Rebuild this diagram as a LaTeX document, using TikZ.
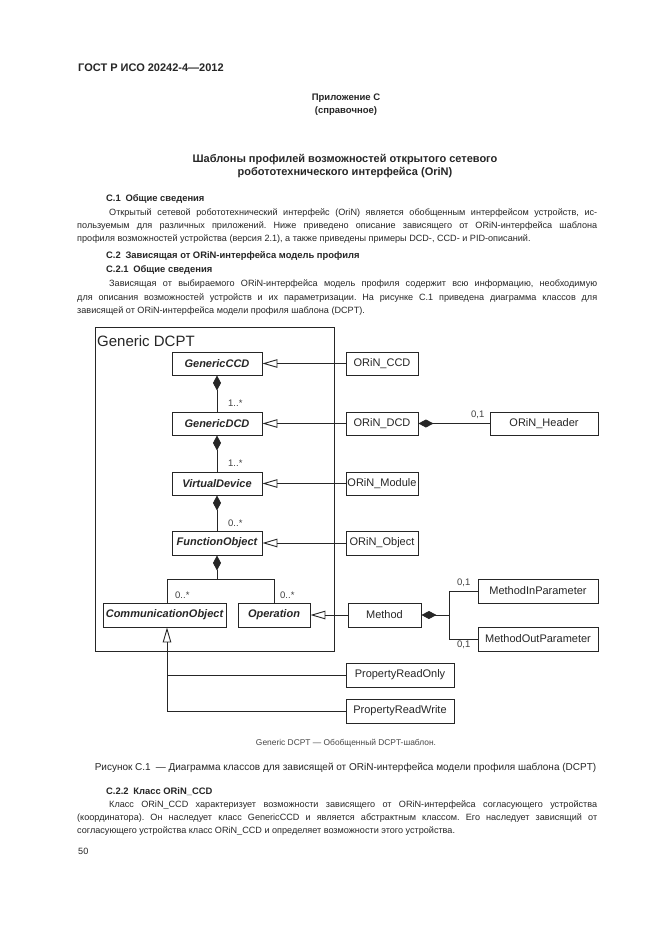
\documentclass[tikz,border=0pt]{standalone}
\usepackage{fontspec}
\setmainfont{Liberation Sans}
\usetikzlibrary{arrows.meta}
\frenchspacing
\begin{document}
\begin{tikzpicture}[x=1pt,y=-1pt,
  body/.style={anchor=base west,inner sep=0pt,font=\fontsize{9.1}{11}\selectfont,text=black!85},
  head/.style={body,font=\bfseries\fontsize{9.4}{11}\selectfont},
  ctr/.style={anchor=base,inner sep=0pt,text=black!85},
  cls/.style={draw=black!85,line width=0.9pt,inner sep=0pt,minimum height=23pt,font=\fontsize{11}{13}\selectfont,text=black!85},
  abscls/.style={cls,font=\bfseries\itshape\fontsize{11}{13}\selectfont},
  mult/.style={anchor=west,inner sep=0pt,font=\fontsize{9.5}{11}\selectfont,text=black!75},
  conn/.style={line width=0.9pt,draw=black!85},
  comp/.style={conn,{Diamond[length=15pt,width=8pt]}-},
  gen/.style={conn,{Triangle[open,length=15pt,width=8.5pt]}-}
]
\fill[white] (0,0) rectangle (661,935);
\useasboundingbox (0,0) rectangle (661,935);

% header
\node[body,font=\bfseries\fontsize{11}{13}\selectfont] (hdr) at (78,71) {ГОСТ Р ИСО 20242-4—2012};
\node[ctr,font=\bfseries\fontsize{9.5}{11}\selectfont] (app1) at (346,100.5) {Приложение С};
\node[ctr,font=\bfseries\fontsize{9.5}{11}\selectfont] (app2) at (346,113.5) {(справочное)};
\node[ctr,font=\bfseries\fontsize{11}{13}\selectfont] (ttl1) at (345,162.5) {Шаблоны профилей возможностей открытого сетевого};
\node[ctr,font=\bfseries\fontsize{11}{13}\selectfont] (ttl2) at (345,175.5) {робототехнического интерфейса (OriN)};

% C.1
\node[head] (h1) at (106,201.5) {C.1\enspace Общие сведения};
\node[body] (p1) at (109,215.5) {\makebox[488pt][s]{Открытый сетевой робототехнический интерфейс (OriN) является обобщенным интерфейсом устройств, ис-}};
\node[body] (p2) at (77,228.5) {\makebox[520pt][s]{пользуемым для различных приложений. Ниже приведено описание зависящего от ORiN-интерфейса шаблона}};
\node[body] (p3) at (77,241.5) {профиля возможностей устройства (версия 2.1), а также приведены примеры DCD-, CCD- и PID-описаний.};

% C.2
\node[head] (h2) at (106,258.5) {C.2\enspace Зависящая от ORiN-интерфейса модель профиля};
\node[head] (h21) at (106,272.5) {C.2.1\enspace Общие сведения};
\node[body] (q1) at (109,286.5) {\makebox[488pt][s]{Зависящая от выбираемого ORiN-интерфейса модель профиля содержит всю информацию, необходимую}};
\node[body] (q2) at (77,300) {\makebox[520pt][s]{для описания возможностей устройств и их параметризации. На рисунке С.1 приведена диаграмма классов для}};
\node[body] (q3) at (77,313.5) {зависящей от ORiN-интерфейса модели профиля шаблона (DCPT).};

% ---------- diagram ----------
\draw[conn] (95,327) rectangle (334,651);
\node[anchor=west,inner sep=0pt,font=\fontsize{15}{17}\selectfont,text=black!85] (frt) at (97,341) {Generic DCPT};

\node[abscls,minimum width=90pt] (gccd) at (217,363.5) {GenericCCD};
\node[abscls,minimum width=90pt] (gdcd) at (217,423.5) {GenericDCD};
\node[abscls,minimum width=90pt] (vdev) at (217,483.5) {VirtualDevice};
\node[abscls,minimum width=90pt,minimum height=24pt] (fobj) at (217,543) {FunctionObject};
\node[abscls,minimum width=123pt,minimum height=24pt] (comm) at (164.5,615) {CommunicationObject};
\node[abscls,minimum width=72pt,minimum height=24pt] (oper) at (274,615) {Operation};

\node[cls,minimum width=72pt] (occd) at (382,363.5) {ORiN\_CCD};
\node[cls,minimum width=72pt] (odcd) at (382,423.5) {ORiN\_DCD};
\node[cls,minimum width=72pt] (omod) at (382,483.5) {ORiN\_Module};
\node[cls,minimum width=72pt,minimum height=24pt] (oobj) at (382,543) {ORiN\_Object};
\node[cls,minimum width=108pt] (ohead) at (544,423.5) {ORiN\_Header};
\node[cls,minimum width=73pt,minimum height=24pt] (meth) at (384.5,615) {Method};
\node[cls,minimum width=120pt,minimum height=24pt] (min) at (538,591) {MethodInParameter};
\node[cls,minimum width=120pt,minimum height=24pt] (mout) at (538,639) {MethodOutParameter};
\node[cls,minimum width=108pt,minimum height=24pt] (pro) at (400,675) {PropertyReadOnly};
\node[cls,minimum width=108pt,minimum height=24pt] (prw) at (400,711) {PropertyReadWrite};

% compositions in the frame
\draw[comp] (gccd.south) -- (gdcd.north);
\draw[comp] (gdcd.south) -- (vdev.north);
\draw[comp] (vdev.south) -- (fobj.north);
\node[mult] (m1) at (228,403) {1..*};
\node[mult] (m2) at (228,463) {1..*};
\node[mult] (m3) at (228,523) {0..*};

\coordinate (fj) at (217,579);
\coordinate (cj) at (167,579);
\draw[comp] (fobj.south) -- (fj);
\draw[conn] (cj |- comm.north) -- (cj) -- (fj);
\draw[conn] (fj) -| (oper.north);
\node[mult] (m4) at (175,595) {0..*};
\node[mult] (m5) at (280,595) {0..*};

% generalisations to the right
\draw[gen] (gccd.east) -- (occd.west);
\draw[gen] (gdcd.east) -- (odcd.west);
\draw[gen] (vdev.east) -- (omod.west);
\draw[gen] (fobj.east) -- (oobj.west);
\draw[gen] (oper.east) -- (meth.west);

% ORiN_DCD - ORiN_Header
\draw[comp] (odcd.east) -- (ohead.west);
\node[mult] (m6) at (471,415) {0,1};

% Method parameters
\coordinate (mj) at (449,615);
\draw[comp] (meth.east) -- (mj);
\draw[conn] (min.west) -- (mj |- min.west) -- (mj |- mout.west) -- (mout.west);
\node[mult] (m7) at (457,583) {0,1};
\node[mult] (m8) at (457,645) {0,1};

% properties
\draw[gen] (cj |- comm.south) -- (cj |- prw.west) -- (prw.west);
\draw[conn] (cj |- pro.west) -- (pro.west);

% ---------- captions and text below ----------
\node[ctr,font=\fontsize{8.4}{9}\selectfont,text=black!72] (cap0) at (346,745.5) {Generic DCPT — Обобщенный DCPT-шаблон.};
\node[ctr,font=\fontsize{10}{12}\selectfont] (cap) at (345.5,770.5) {Рисунок С.1\enspace — Диаграмма классов для зависящей от ORiN-интерфейса модели профиля шаблона (DCPT)};

\node[head] (h22) at (106,794.5) {C.2.2\enspace Класс ORiN\_CCD};
\node[body] (r1) at (109,807.5) {\makebox[488pt][s]{Класс ORiN\_CCD характеризует возможности зависящего от ORiN-интерфейса согласующего устройства}};
\node[body] (r2) at (77,820.5) {\makebox[520pt][s]{(координатора). Он наследует класс GenericCCD и является абстрактным классом. Его наследует зависящий от}};
\node[body] (r3) at (77,833.5) {согласующего устройства класс ORiN\_CCD и определяет возможности этого устройства.};
\node[body] (pg) at (78,854.5) {50};
\end{tikzpicture}
\end{document}
